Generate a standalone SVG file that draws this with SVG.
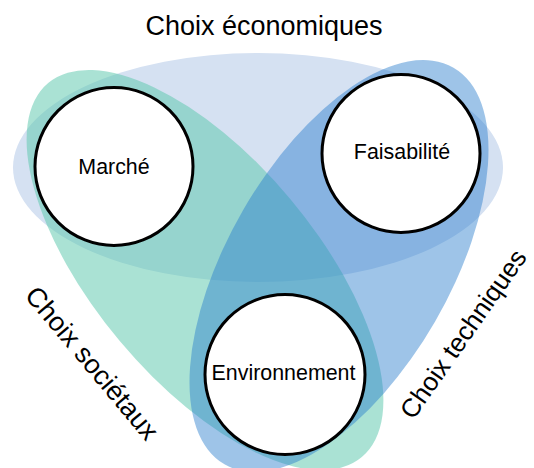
<svg xmlns="http://www.w3.org/2000/svg" width="534" height="468" viewBox="0 0 534 468">
  <style>
    .lbl { font-family: "Liberation Sans", Arial, sans-serif; fill: #000; }
    .big { font-size: 27px; }
    .node-text { font-size: 21.4px; text-anchor: middle; }
    .circle { fill: #fff; stroke: #000; stroke-width: 3; }
  </style>
  <rect width="534" height="468" fill="#fff"/>
  <g id="choix-economiques">
    <ellipse cx="258" cy="167.5" rx="245" ry="114.5" fill="#d5e1f2"/>
    <text class="lbl big" x="264" y="35" text-anchor="middle">Choix économiques</text>
  </g>
  <g id="choix-societaux">
    <ellipse cx="205" cy="270" rx="244" ry="111" transform="rotate(50 205 270)" fill="rgb(92,199,172)" fill-opacity="0.52"/>
    <text class="lbl big" x="85" y="369" text-anchor="middle" transform="rotate(50 85 369)">Choix sociétaux</text>
  </g>
  <g id="choix-techniques">
    <ellipse cx="339" cy="266" rx="229" ry="111" transform="rotate(-60 339 266)" fill="rgb(40,125,205)" fill-opacity="0.45"/>
    <text class="lbl" font-size="26" x="470.5" y="339" text-anchor="middle" transform="rotate(-55 470.5 339)">Choix techniques</text>
  </g>
  <g id="connectors"/>
  <g id="marche">
    <circle class="circle" cx="114" cy="166.5" r="79"/>
    <text class="lbl node-text" x="114" y="174">Marché</text>
  </g>
  <g id="faisabilite">
    <circle class="circle" cx="401" cy="153.5" r="79"/>
    <text class="lbl node-text" x="402" y="159">Faisabilité</text>
  </g>
  <g id="environnement">
    <circle class="circle" cx="285" cy="374.5" r="80"/>
    <text class="lbl node-text" x="283.5" y="380">Environnement</text>
  </g>
</svg>
